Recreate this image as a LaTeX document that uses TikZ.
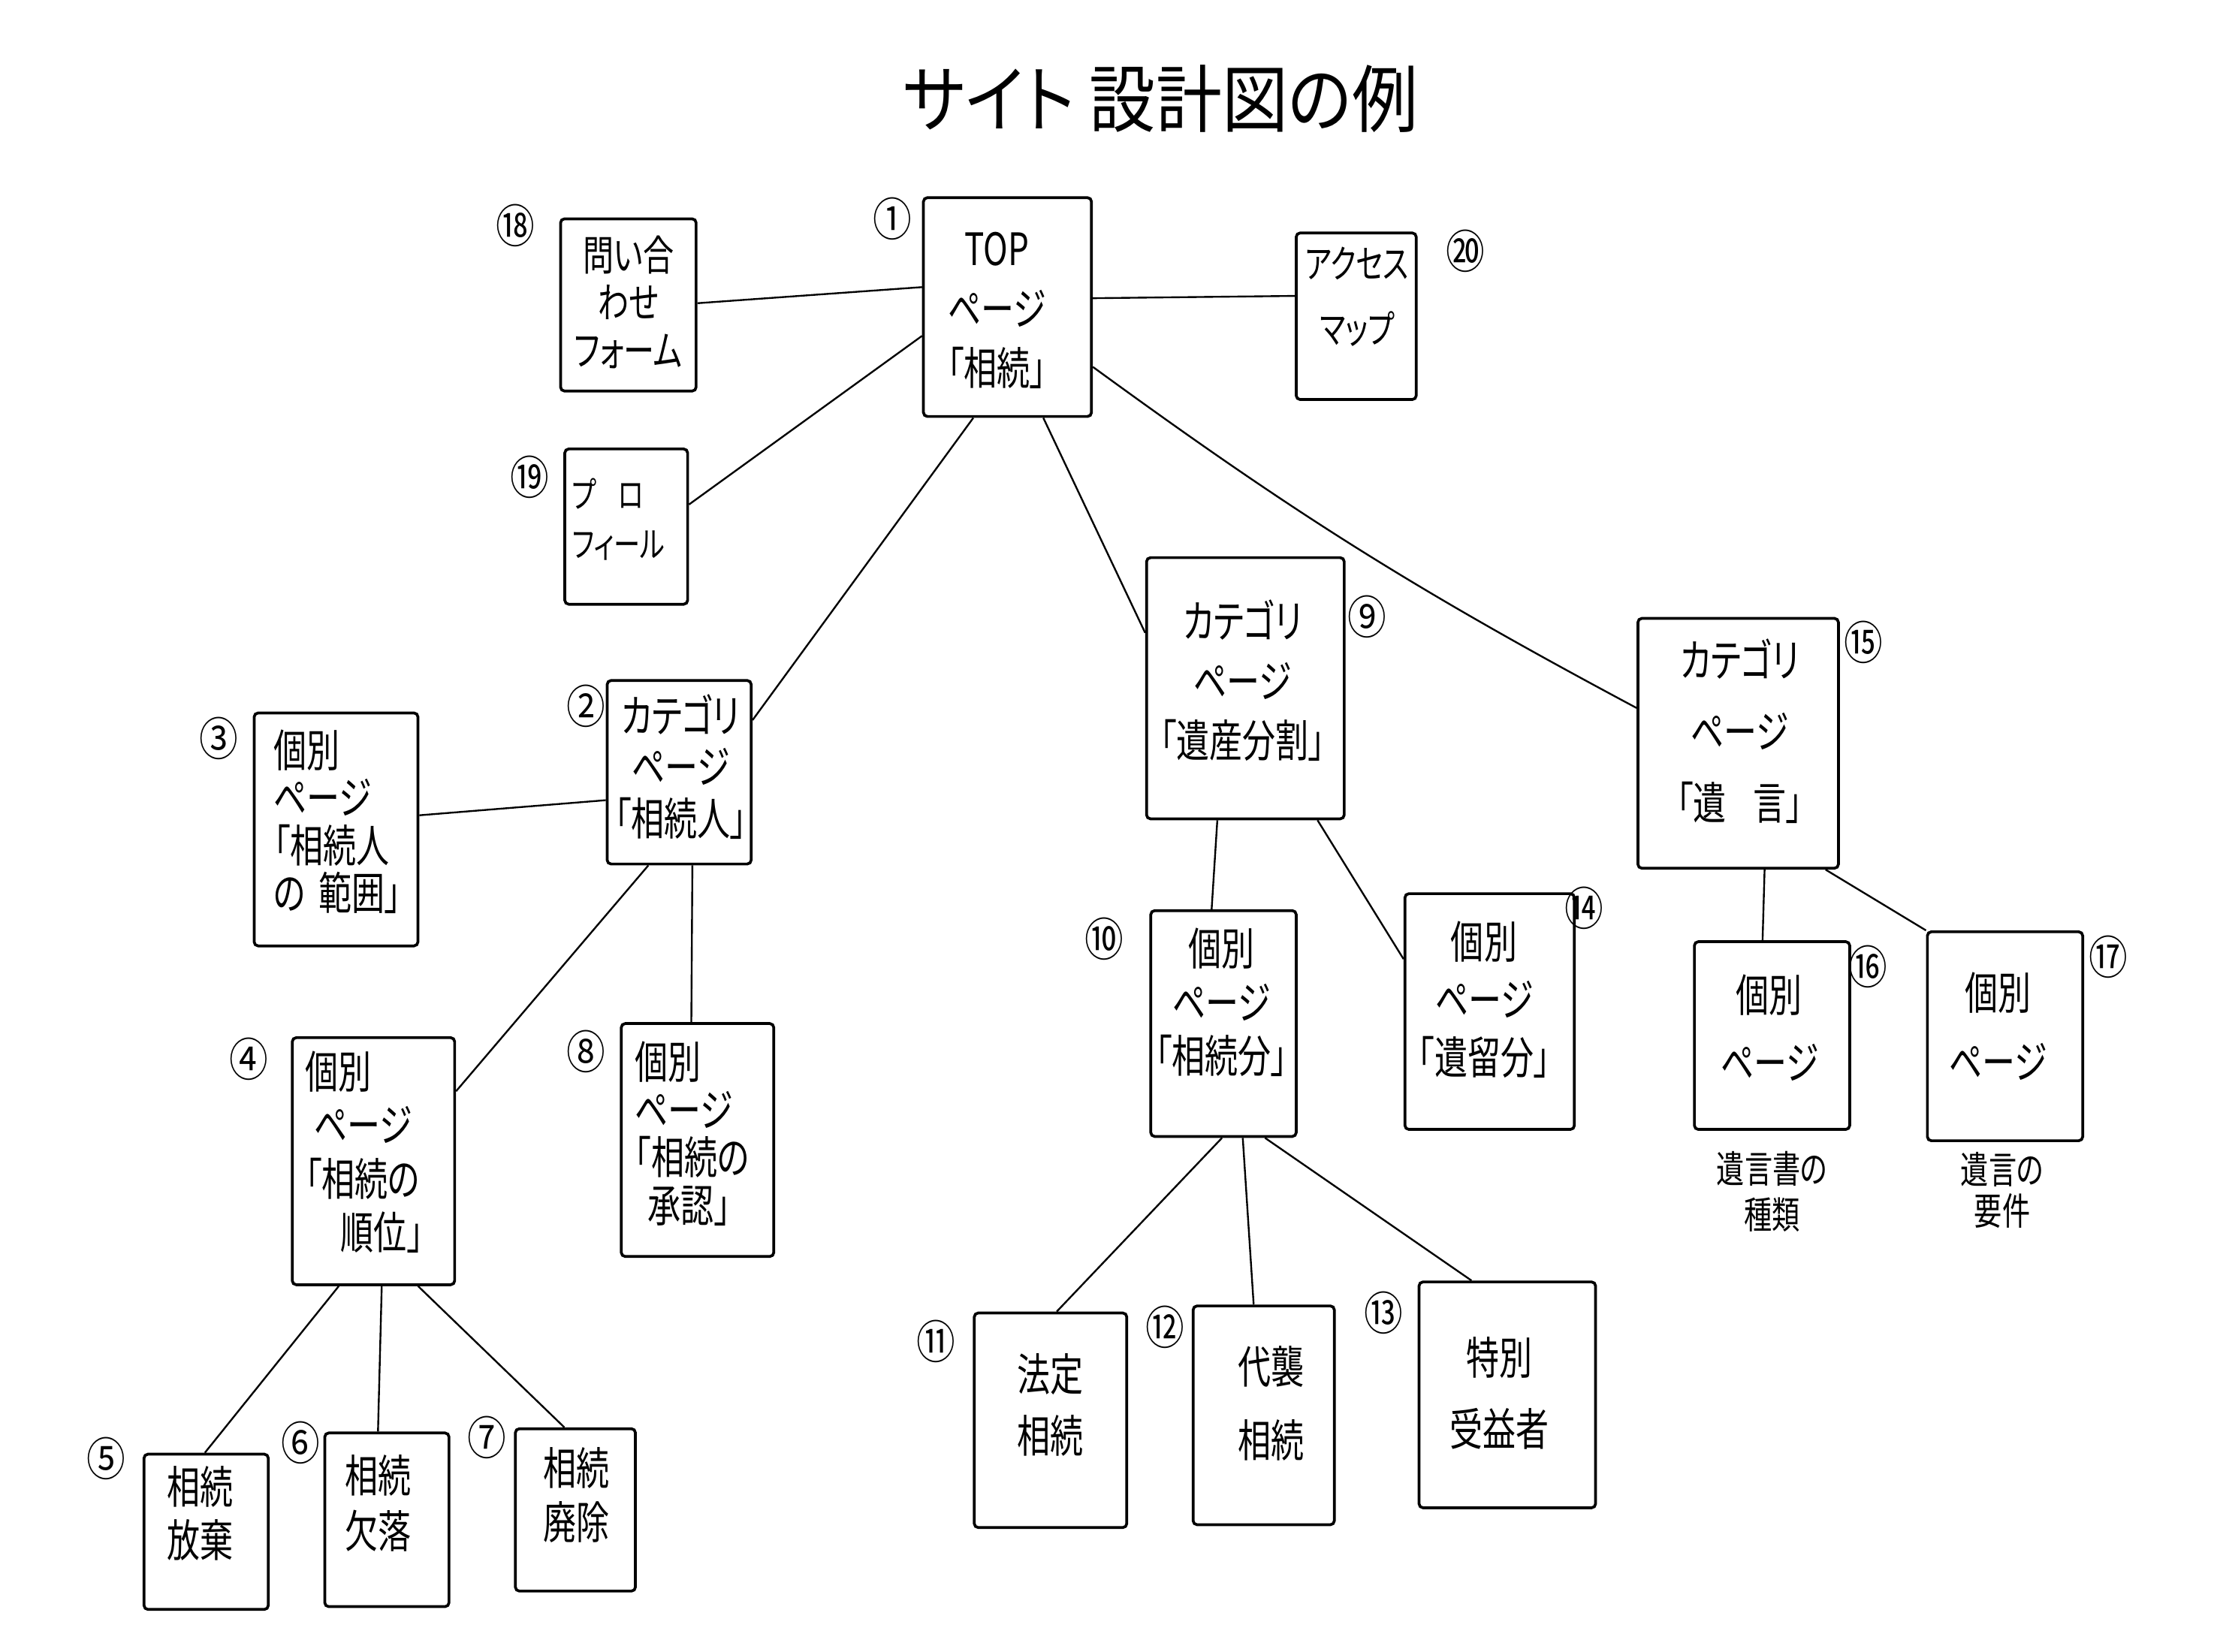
\documentclass[tikz,border=0pt]{standalone}
\usepackage{fontspec}
\newfontfamily\jpfont{Noto Sans CJK JP}[FakeStretch=0.74,RawFeature=+palt]
\newfontfamily\jptitlefont{Noto Sans CJK JP}[FakeStretch=0.9,RawFeature=+palt]
\newfontfamily\jpnumfont{Noto Sans CJK JP}[FakeStretch=0.85]
\newcommand\jptext[2]{\jpfont\fontsize{#1pt}{#2pt}\selectfont}
\usetikzlibrary{fit,calc}
\begin{document}
\begin{tikzpicture}[x=0.025cm,y=-0.025cm,
  pagebox/.style={draw, line width=1.4pt, inner sep=0pt, rounded corners=2pt},
  link/.style={line width=0.9pt},
  lbl/.style={font=\jptext{22.5}{#1}, align=center, inner sep=0pt},
  lbll/.style={font=\jptext{22.5}{#1}, align=left, inner sep=0pt},
  note/.style={font=\jptext{19}{#1}, align=center, inner sep=0pt},
  num/.style={font=\jpnumfont\fontsize{23pt}{23pt}\selectfont, inner sep=0pt},
]
\useasboundingbox[fill=white] (0,0) rectangle (1568,1170);

% title
\node[font=\jptitlefont\fontsize{37pt}{37pt}\selectfont, inner sep=0pt] (title) at (822,70) {サイト 設計図の例};

% boxes
\node[pagebox, fit={(654,140) (773,295)}] (b1) {};
\node[pagebox, fit={(397,155) (493,277)}] (b18) {};
\node[pagebox, fit={(400,318) (487,428)}] (b19) {};
\node[pagebox, fit={(918,165) (1003,283)}] (b20) {};
\node[pagebox, fit={(430,482) (532,612)}] (b2) {};
\node[pagebox, fit={(180,505) (296,670)}] (b3) {};
\node[pagebox, fit={(207,735) (322,910)}] (b4) {};
\node[pagebox, fit={(440,725) (548,890)}] (b8) {};
\node[pagebox, fit={(102,1030) (190,1140)}] (b5) {};
\node[pagebox, fit={(230,1015) (318,1138)}] (b6) {};
\node[pagebox, fit={(365,1012) (450,1127)}] (b7) {};
\node[pagebox, fit={(812,395) (952,580)}] (b9) {};
\node[pagebox, fit={(1160,438) (1302,615)}] (b15) {};
\node[pagebox, fit={(815,645) (918,805)}] (b10) {};
\node[pagebox, fit={(995,633) (1115,800)}] (b14) {};
\node[pagebox, fit={(1200,667) (1310,800)}] (b16) {};
\node[pagebox, fit={(1365,660) (1475,808)}] (b17) {};
\node[pagebox, fit={(690,930) (798,1082)}] (b11) {};
\node[pagebox, fit={(845,925) (945,1080)}] (b12) {};
\node[pagebox, fit={(1005,908) (1130,1068)}] (b13) {};

% texts
\node[lbl=30] (t1) at (706,220) {TOP\\ページ\\「相続」};
\node[lbl=24, font=\jptext{21}{24}] (t18) at (445,214) {問い合\\わせ\\フォーム};
\node[lbll=25, font=\jptext{18}{25}] (t19) at (438,368) {プ\hspace{0.6em}ロ\\フィール};
\node[lbl=32, font=\jptext{19.5}{33}] (t20) at (961,210) {アクセス\\マップ};
\node[lbl=26] (t2) at (482,543) {カテゴリ\\ページ\\「相続人」};
\node[lbll=24] (t3) at (239,582) {個別\\ページ\\「相続人\\の\hspace{0.3em}範囲」};
\node[lbll=27] (t4) at (258,816) {個別\\\hspace{0.2em}ページ\\「相続の\\\hspace{0.8em}順位」};
\node[lbll=24] (t8) at (490,803) {個別\\ページ\\「相続の\\\hspace{0.3em}承認」};
\node[lbl=27] (t5) at (142,1072) {相続\\放棄};
\node[lbl=28] (t6) at (268,1065) {相続\\欠落};
\node[lbl=27] (t7) at (408,1059) {相続\\廃除};
\node[lbl=30] (t9) at (880,482) {カテゴリ\\ページ\\「遺産分割」};
\node[lbl=36] (t15) at (1232,518) {カテゴリ\\ページ\\「遺\hspace{0.6em}言」};
\node[lbl=27] (t10) at (865,710) {個別\\ページ\\「相続分」};
\node[lbl=29] (t14) at (1051,708) {個別\\ページ\\「遺留分」};
\node[lbl=34] (t16) at (1253,728) {個別\\ページ};
\node[lbl=35] (t17) at (1415,727) {個別\\ページ};
\node[note=23] (t16n) at (1255,844) {遺言書の\\種類};
\node[note=21] (t17n) at (1418,843) {遺言の\\要件};
\node[lbl=31] (t11) at (744,995) {法定\\相続};
\node[lbl=37] (t12) at (900,994) {代襲\\相続};
\node[lbl=36] (t13) at (1062,987) {特別\\受益者};

% circled numbers
\node[num] (n1) at (632,155) {①};
\node[num] (n2) at (415,500) {②};
\node[num] (n3) at (155,523) {③};
\node[num] (n4) at (176,750) {④};
\node[num] (n5) at (75,1033) {⑤};
\node[num] (n6) at (213,1022) {⑥};
\node[num] (n7) at (345,1018) {⑦};
\node[num] (n8) at (415,745) {⑧};
\node[num] (n9) at (968,437) {⑨};
\node[num] (n10) at (782,665) {⑩};
\node[num] (n11) at (663,950) {⑪};
\node[num] (n12) at (825,940) {⑫};
\node[num] (n13) at (980,930) {⑬};
\node[num] (n14) at (1122,643) {⑭};
\node[num] (n15) at (1320,455) {⑮};
\node[num] (n16) at (1323,685) {⑯};
\node[num] (n17) at (1493,678) {⑰};
\node[num] (n18) at (365,160) {⑱};
\node[num] (n19) at (375,338) {⑲};
\node[num] (n20) at (1038,178) {⑳};

% connectors
\draw[link] ($(b1.north west)!0.41!(b1.south west)$) -- ($(b18.north east)!0.49!(b18.south east)$);
\draw[link] ($(b1.north west)!0.63!(b1.south west)$) -- ($(b19.north east)!0.36!(b19.south east)$);
\draw[link] ($(b1.north east)!0.46!(b1.south east)$) -- ($(b20.north west)!0.38!(b20.south west)$);
\draw[link] ($(b1.south west)!0.30!(b1.south east)$) -- ($(b2.north east)!0.22!(b2.south east)$);
\draw[link] ($(b1.south west)!0.71!(b1.south east)$) -- ($(b9.north west)!0.29!(b9.south west)$);
\draw[link] ($(b1.north east)!0.77!(b1.south east)$) to[bend right=4] ($(b15.north west)!0.36!(b15.south west)$);
\draw[link] ($(b2.north west)!0.65!(b2.south west)$) -- ($(b3.north east)!0.44!(b3.south east)$);
\draw[link] ($(b2.south west)!0.29!(b2.south east)$) -- ($(b4.north east)!0.22!(b4.south east)$);
\draw[link] ($(b2.south west)!0.59!(b2.south east)$) -- ($(b8.north west)!0.46!(b8.north east)$);
\draw[link] ($(b4.south west)!0.29!(b4.south east)$) -- ($(b5.north west)!0.49!(b5.north east)$);
\draw[link] ($(b4.south west)!0.55!(b4.south east)$) -- ($(b6.north west)!0.43!(b6.north east)$);
\draw[link] ($(b4.south west)!0.77!(b4.south east)$) -- ($(b7.north west)!0.41!(b7.north east)$);
\draw[link] ($(b9.south west)!0.36!(b9.south east)$) -- ($(b10.north west)!0.42!(b10.north east)$);
\draw[link] ($(b9.south west)!0.86!(b9.south east)$) -- ($(b14.north west)!0.28!(b14.south west)$);
\draw[link] ($(b15.south west)!0.63!(b15.south east)$) -- ($(b16.north west)!0.44!(b16.north east)$);
\draw[link] ($(b15.south west)!0.93!(b15.south east)$) -- (b17.north west);
\draw[link] ($(b10.south west)!0.49!(b10.south east)$) -- ($(b11.north west)!0.54!(b11.north east)$);
\draw[link] ($(b10.south west)!0.63!(b10.south east)$) -- ($(b12.north west)!0.43!(b12.north east)$);
\draw[link] ($(b10.south west)!0.78!(b10.south east)$) -- ($(b13.north west)!0.30!(b13.north east)$);
\end{tikzpicture}
\end{document}
